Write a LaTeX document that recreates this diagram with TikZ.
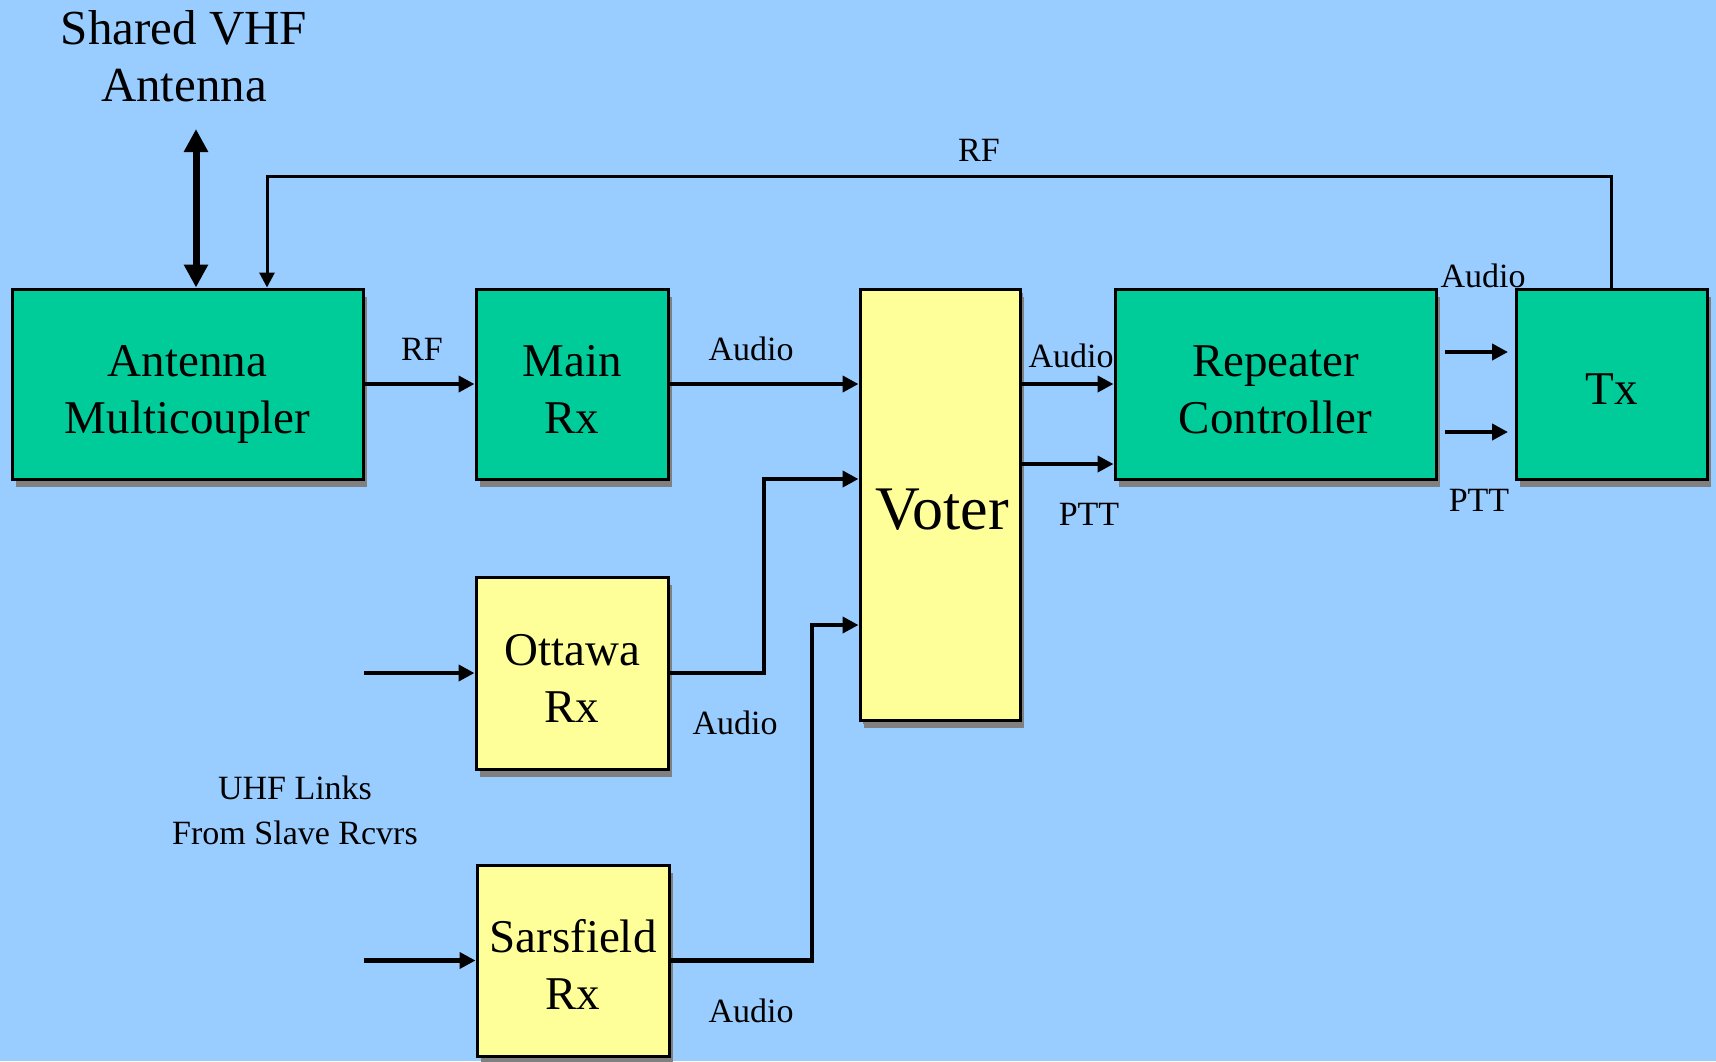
\documentclass[tikz,border=0pt]{standalone}
\usepackage{fontspec}
\setmainfont{Liberation Serif}
\usetikzlibrary{arrows.meta,shadows}
\definecolor{bgblue}{HTML}{99CCFF}
\definecolor{boxgreen}{HTML}{00CC99}
\definecolor{boxyellow}{HTML}{FFFF99}
\definecolor{shadowgray}{HTML}{808080}
\tikzset{
  blk/.style={draw=black, line width=3pt, rectangle, inner sep=0pt,
     drop shadow={shadow xshift=4pt, shadow yshift=-8pt, fill=shadowgray, opacity=1}},
  gblk/.style={blk, fill=boxgreen},
  yblk/.style={blk, fill=boxyellow},
  boxtxt/.style={align=center, inner sep=0pt, yshift=-20.5pt,
     font=\fontsize{47}{57}\selectfont},
  arr/.style={line width=4.5pt, -{Triangle[length=16pt,width=16pt]}},
  thinarr/.style={line width=3pt, -{Triangle[length=15pt,width=15pt]}},
  dblarr/.style={line width=7pt, {Triangle[length=23pt,width=23pt]}-{Triangle[length=23pt,width=23pt]}},
  lbl/.style={inner sep=0pt, font=\fontsize{34}{40}\selectfont},
  biglbl/.style={inner sep=0pt, align=center, font=\fontsize{49}{57}\selectfont}
}
\begin{document}
\begin{tikzpicture}[x=1pt,y=-1pt]
\fill[bgblue] (0,0) rectangle (1716,1061);
\useasboundingbox (0,0) rectangle (1716,1061);

% boxes
\node[gblk, minimum width=351pt, minimum height=190pt,
      label={[boxtxt]center:{\smash{Antenna}\\\smash{Multicoupler}}}] (am) at (187.5,384) {};
\node[gblk, minimum width=192pt, minimum height=190pt,
      label={[boxtxt]center:{\smash{Main}\\\smash{Rx}}}] (mrx) at (572,384) {};
\node[yblk, minimum width=160pt, minimum height=431pt,
      drop shadow={shadow xshift=3pt, shadow yshift=-4pt, fill=shadowgray, opacity=1}] (vot) at (940,504.5) {};
\node[inner sep=0pt, font=\fontsize{62}{70}\selectfont] (vott) at (942,510) {Voter};
\node[gblk, minimum width=321pt, minimum height=190pt,
      label={[boxtxt]center:{\smash{Repeater}\\\smash{Controller}}}] (rep) at (1275.5,384) {};
\node[gblk, minimum width=191pt, minimum height=190pt,
      label={[boxtxt]center:{\smash{Tx}}}] (tx) at (1611.5,384) {};
\node[yblk, minimum width=192pt, minimum height=192pt,
      label={[boxtxt]center:{\smash{Ottawa}\\\smash{Rx}}}] (ott) at (572,673) {};
\node[yblk, minimum width=192pt, minimum height=191pt,
      label={[boxtxt]center:{\smash{Sarsfield}\\\smash{Rx}}}] (sar) at (573,960.5) {};

% title
\node[biglbl] (title) at (184,56) {Shared VHF\\Antenna};

% antenna double arrow
\coordinate (ant) at (196,129);
\draw[dblarr] (ant) -- (ant |- am.north);

% RF loop from Tx to multicoupler
\coordinate (rfc) at (267,176);
\draw[thinarr] (tx.north) |- (rfc) -- (rfc |- am.north);
\node[lbl] (rflbl) at (979,150) {RF};

% main chain
\draw[arr] (am.east) -- (mrx.west);
\node[lbl] (rf2) at (422,349) {RF};
\draw[arr] (mrx.east) -- (mrx.east -| vot.west);
\node[lbl] (au1) at (751,349) {Audio};

% Ottawa
\coordinate (in1) at (364,673);
\draw[arr] (in1) -- (ott.west);
\coordinate (ov) at (764,479);
\draw[arr] (ott.east) -| (ov) -- (ov -| vot.west);
\node[lbl] (au2) at (735,723) {Audio};

% Sarsfield
\coordinate (in2) at (364,960.5);
\draw[arr] (in2) -- (sar.west);
\coordinate (sv) at (812,625);
\draw[arr] (sar.east) -| (sv) -- (sv -| vot.west);
\node[lbl] (au3) at (751,1011) {Audio};

% UHF links label
\node[lbl, align=center, font=\fontsize{34}{45}\selectfont] (uhf) at (295,810) {UHF Links\\From Slave Rcvrs};

% Voter -> Repeater
\draw[arr] (vot.east |- rep.center) -- (rep.west);
\node[lbl] (au4) at (1071,356) {Audio};
\coordinate (pt) at (0,464);
\draw[arr] (vot.east |- pt) -- (rep.west |- pt);
\node[lbl] (ptt1) at (1089,514) {PTT};

% Repeater -> Tx
\coordinate (a1s) at (1445,352);
\coordinate (a1e) at (1508,352);
\coordinate (a2s) at (1445,432);
\coordinate (a2e) at (1508,432);
\draw[arr] (a1s) -- (a1e);
\draw[arr] (a2s) -- (a2e);
\node[lbl] (au5) at (1483,276) {Audio};
\node[lbl] (ptt2) at (1479,500) {PTT};
\end{tikzpicture}
\end{document}
